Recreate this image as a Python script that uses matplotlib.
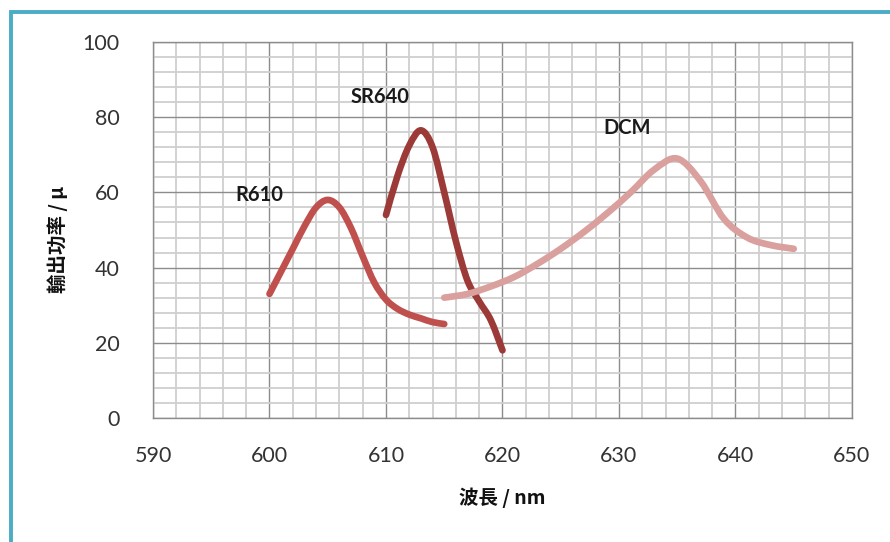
import numpy as np
import matplotlib.pyplot as plt
from matplotlib.patches import Rectangle, PathPatch
from matplotlib.path import Path
from matplotlib.ticker import MultipleLocator

plt.rcParams['font.family'] = ['Lato', 'DejaVu Sans']

# wavelength (nm) and output power for the three dyes
r610_x = [600, 601, 602, 603, 604, 605, 606, 607, 608, 609, 610, 611, 612, 613, 614, 615]
r610_y = [33, 39, 45, 51, 56, 58, 56, 50.5, 43, 36, 31.5, 29, 27.5, 26.5, 25.5, 25]

sr640_x = [610, 611, 612, 613, 614, 615, 616, 617, 618, 619, 620]
sr640_y = [54, 64.5, 72.5, 76.5, 72, 60, 47, 36.5, 31, 26, 18]

dcm_x = [615, 617, 619, 621, 623, 625, 627, 629, 631, 633, 635, 637, 639, 641, 643, 645]
dcm_y = [32, 33, 35, 37.5, 41, 45, 49.5, 54.5, 60, 66, 69, 63, 53, 48, 46, 45]

labels = ['R610', 'SR640', 'DCM']
label_pos = [(599.1, 59.4), (609.5, 85.5), (630.7, 77.1)]
colors = ['#C0504D', '#9C3A38', '#D9A09E']


def smooth_path(xs, ys, t=1 / 6):
    """Bezier path through the points (same idea as a spreadsheet 'smoothed line')."""
    p = np.column_stack([xs, ys]).astype(float)
    verts = [p[0]]
    codes = [Path.MOVETO]
    n = len(p)
    for i in range(n - 1):
        p0 = p[i - 1] if i > 0 else p[i]
        p3 = p[i + 2] if i + 2 < n else p[i + 1]
        c1 = p[i] + (p[i + 1] - p0) * t
        c2 = p[i + 1] - (p3 - p[i]) * t
        verts += [c1, c2, p[i + 1]]
        codes += [Path.CURVE4] * 3
    return Path(verts, codes)


fig = plt.figure(figsize=(8.9, 5.42), dpi=100)
ax = fig.add_axes([0.1719, 0.2288, 0.7854, 0.6937])

series = [(r610_x, r610_y), (sr640_x, sr640_y), (dcm_x, dcm_y)]
for (xs, ys), c in zip(series, colors):
    patch = PathPatch(smooth_path(xs, ys), facecolor='none', edgecolor=c,
                      lw=4.8, capstyle='round', joinstyle='round', zorder=3)
    ax.add_patch(patch)

for name, (lx, ly) in zip(labels, label_pos):
    ax.text(lx, ly, name, ha='center', va='center', fontsize=14.5,
            fontweight='bold', color='#1a1a1a', zorder=4)

ax.set_xlim(590, 650)
ax.set_ylim(0, 100)
ax.xaxis.set_major_locator(MultipleLocator(10))
ax.xaxis.set_minor_locator(MultipleLocator(2))
ax.yaxis.set_major_locator(MultipleLocator(20))
ax.yaxis.set_minor_locator(MultipleLocator(4))
ax.grid(which='minor', color='#cfcfcf', lw=1.3, zorder=0)
ax.grid(which='major', color='#8c8c8c', lw=1.0, zorder=1)
ax.set_axisbelow(True)
for s in ax.spines.values():
    s.set_color('#8c8c8c')
    s.set_linewidth(1.0)
ax.tick_params(which='both', length=0, labelsize=15.5, colors='#333333')
ax.tick_params(axis='x', pad=20)
ax.tick_params(axis='y', pad=24)

cjk = ['Noto Sans CJK TC', 'DejaVu Sans']
ax.set_xlabel('波長 / nm', family=cjk, fontsize=14, fontweight='bold',
              color='#111111', labelpad=16)
ax.set_ylabel('輸出功率 / μ', family=cjk, fontsize=14, fontweight='bold',
              color='#111111', va='center')
ax.yaxis.set_label_coords(-0.137, 0.476)

# outer frame, only the top and left edges fall inside the canvas
fig.patches.append(Rectangle((10.5 / 890, -0.2), 1.2, 1.2 - 12 / 542,
                             transform=fig.transFigure, fill=False,
                             edgecolor='#4BACC6', lw=2.8, zorder=10))

fig.savefig('out.png', dpi=100)
